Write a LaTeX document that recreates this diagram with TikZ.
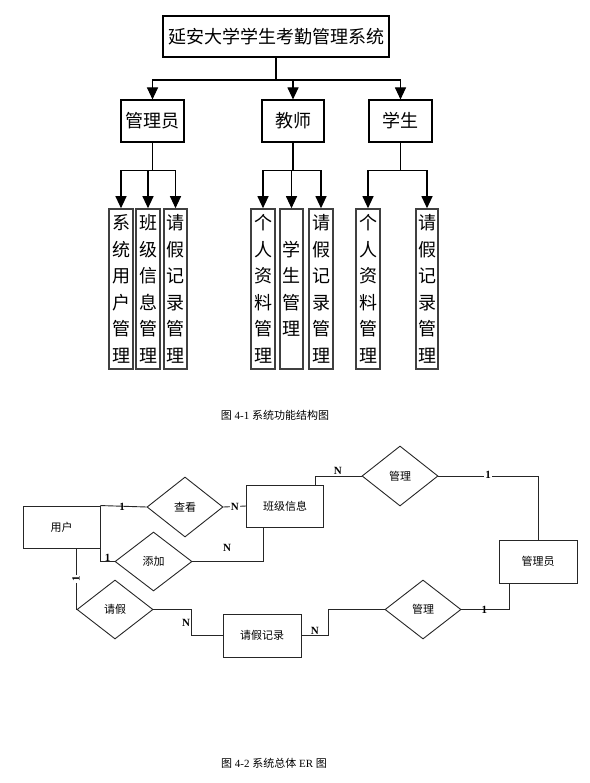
\documentclass[tikz,border=0pt]{standalone}
\usepackage{fontspec}
\setmainfont{Liberation Serif}
\newfontfamily\cjk{Noto Sans CJK SC}
\usetikzlibrary{arrows.meta,shapes.geometric}
\tikzset{
	box/.style={draw, line width=1.1pt, inner sep=0pt, font=\cjk\fontsize{18}{22}\selectfont},
	col/.style={draw=black!75, line width=1.6pt, minimum width=24pt, minimum height=160pt, inner sep=0pt, align=center, font=\cjk\fontsize{18}{26.5}\selectfont},
	arr/.style={line width=1.1pt, -{Triangle[length=12pt,width=11pt]}},
	ent/.style={draw=black!85, line width=0.9pt, minimum width=77pt, minimum height=42pt, inner sep=0pt, font=\cjk\fontsize{11}{13}\selectfont},
	rel/.style={diamond, draw=black!85, line width=0.9pt, minimum width=76pt, minimum height=59pt, inner sep=0pt, font=\cjk\fontsize{11}{13}\selectfont},
	er/.style={draw=black!85, line width=0.9pt},
	num/.style={font=\bfseries\fontsize{11}{13}\selectfont, inner sep=1pt},
	figcap/.style={font=\fontsize{11}{13}\selectfont}
}
\begin{document}
\begin{tikzpicture}[x=1pt, y=-1pt]
		\useasboundingbox (0,0) rectangle (589,783);
		
		%%%%% STRUCTURE %%%%%
		
		\node[box, minimum width=226pt, minimum height=41pt] (title) at (276, 36.5) {延安大学学生考勤管理系统};
		
		\node[box, minimum width=63pt, minimum height=42pt] (admin) at (152.5, 121) {管理员};
		\node[box, minimum width=62pt, minimum height=42pt] (teacher) at (293, 121) {教师};
		\node[box, minimum width=63pt, minimum height=42pt] (student) at (400.5, 121) {学生};
		
		\coordinate (top) at (276, 80);
		\draw[line width=1.1pt] (title.south) -- (top);
		\draw[arr] (top) -| (admin.north);
		\draw[arr] (top) -| (teacher.north);
		\draw[arr] (top) -| (student.north);
		
		\node[col] (a1) at (121, 289) {系\\统\\用\\户\\管\\理};
		\node[col] (a2) at (148, 289) {班\\级\\信\\息\\管\\理};
		\node[col, minimum width=23pt] (a3) at (175.5, 289) {请\\假\\记\\录\\管\\理};
		
		\node[col] (t1) at (263, 289) {个\\人\\资\\料\\管\\理};
		\node[col, minimum width=23pt] (t2) at (291.5, 289) {学\\生\\管\\理};
		\node[col] (t3) at (321, 289) {请\\假\\记\\录\\管\\理};
		
		\node[col] (s1) at (368, 289) {个\\人\\资\\料\\管\\理};
		\node[col, minimum width=22pt] (s2) at (427, 289) {请\\假\\记\\录\\管\\理};
		
		\path (admin.south) ++(0, 28) coordinate (ja);
		\draw[line width=1.1pt] (admin.south) -- (ja);
		\draw[arr] (ja) -| (a1.north);
		\draw[arr] (ja) -| (a2.north);
		\draw[arr] (ja) -| (a3.north);
		
		\path (teacher.south) ++(0, 28) coordinate (jt);
		\draw[line width=1.1pt] (teacher.south) -- (jt);
		\draw[arr] (jt) -| (t1.north);
		\draw[arr] (jt) -| (t2.north);
		\draw[arr] (jt) -| (t3.north);
		
		\path (student.south) ++(0, 28) coordinate (js);
		\draw[line width=1.1pt] (student.south) -- (js);
		\draw[arr] (js) -| (s1.north);
		\draw[arr] (js) -| (s2.north);
		
		\node[figcap] (cap1) at (275, 415) {{\cjk 图} 4-1 {\cjk 系统功能结构图}};
		
		%%%%% ER %%%%%
		
		\node[ent] (user) at (61.5, 527) {用户};
		\node[ent] (cls) at (285, 506) {班级信息};
		\node[ent, minimum width=78pt, minimum height=43pt] (rec) at (262, 635.5) {请假记录};
		\node[ent, minimum width=78pt, minimum height=43pt] (adm) at (538, 561.5) {管理员};
		
		\node[rel, minimum height=60pt] (look) at (185, 507) {查看};
		\node[rel, minimum width=77pt] (add) at (153.5, 561.5) {添加};
		\node[rel] (leave) at (115, 609.5) {请假};
		\node[rel, minimum height=60pt] (man1) at (400, 476) {管理};
		\node[rel] (man2) at (423, 609.5) {管理};
		
		\draw[er] (user.north east) -- node[num, pos=0.47, below=-4pt] {1} (look.west);
		\draw[er] (user.north east) |- node[num, pos=0.75, above=-1pt] {1} (add.west);
		\draw[er] (look.east) -- node[num, fill=white] {N} (cls.west);
		\draw[er] (add.east) -| node[num, pos=0.245, above=9pt] {N} ([xshift=-22pt]cls.south);
		\draw[er] ([xshift=14.5pt]user.south) |- node[num, pos=0.25, rotate=90, fill=white] {1} (leave.west);
		\draw[er] (leave.east) -| node[num, pos=0.75, left=0pt] {N} ([xshift=-31pt]rec.west) -- (rec.west);
		\draw[er] (rec.east) -- node[num, above] {N} ++(27, 0) |- (man2.west);
		\draw[er] (man2.east) -| node[num, pos=0.24] {1} ([xshift=-29pt]adm.south);
		\draw[er] ([xshift=30pt]cls.north) |- node[num, pos=0.745, above] {N} (man1.west);
		\draw[er] (man1.east) -| node[num, pos=0.25, above=-4pt, fill=white] {1} (adm.north);
		
		\node[figcap] (cap2) at (274, 763) {{\cjk 图} 4-2 {\cjk 系统总体} ER {\cjk 图}};
		
	\end{tikzpicture}
\end{document}
